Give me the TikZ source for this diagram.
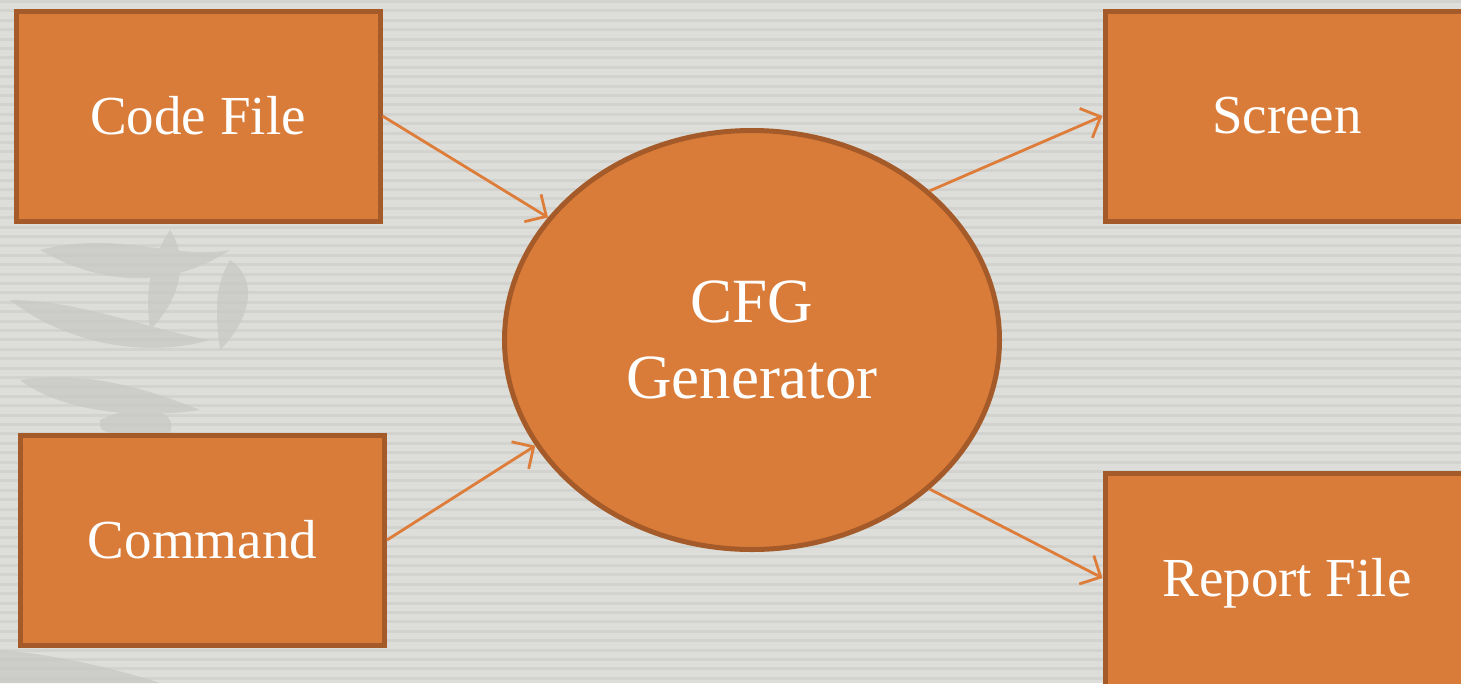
\documentclass[tikz,border=0pt]{standalone}
\usepackage{fontspec}
\setmainfont{Liberation Serif}
\usetikzlibrary{shapes.geometric,arrows.meta}
\definecolor{bg}{HTML}{DDDED9}
\definecolor{stripe}{HTML}{C9CAC5}
\definecolor{leaf}{HTML}{CDCECA}
\definecolor{boxfill}{HTML}{D97C3A}
\definecolor{boxline}{HTML}{A55B29}
\definecolor{arrowc}{HTML}{DE7C39}
\tikzset{
  boxnode/.style={draw=boxline, fill=boxfill, line width=5pt, minimum width=364pt, minimum height=210pt, text=white, font=\fontsize{55}{66}\selectfont, inner sep=0pt},
  procnode/.style={ellipse, draw=boxline, fill=boxfill, line width=5pt, minimum width=495pt, minimum height=419pt, text=white, align=center, font=\fontsize{63}{76}\selectfont, inner sep=0pt},
  flow/.style={draw=arrowc, line width=2.8pt, -{Straight Barb[length=16pt,width=32pt,line width=2.8pt]}}
}
\begin{document}
\begin{tikzpicture}[x=1pt,y=-1pt]
\useasboundingbox (0,0) rectangle (1461,683);
\fill[bg] (0,0) rectangle (1461,683);
% faint watermark leaves
\begin{scope}[leaf]
\fill (40,250) .. controls (120,230) and (170,260) .. (230,250) .. controls (170,290) and (100,285) .. cycle;
\fill (10,300) .. controls (80,300) and (150,330) .. (210,340) .. controls (140,360) and (60,340) .. cycle;
\fill (20,380) .. controls (90,370) and (150,390) .. (200,410) .. controls (130,420) and (60,410) .. cycle;
\fill (170,230) .. controls (190,260) and (180,300) .. (150,330) .. controls (145,290) and (150,260) .. cycle;
\fill (230,260) .. controls (260,280) and (250,320) .. (220,350) .. controls (215,310) and (215,285) .. cycle;
\fill (100,420) .. controls (140,400) and (180,410) .. (170,433) -- (110,433) .. controls (100,430) .. cycle;
\fill (0,650) .. controls (60,655) and (120,670) .. (160,683) -- (0,683) -- cycle;
\end{scope}
\foreach \s in {0,9.4,...,683} \fill[stripe, opacity=0.5] (0,\s) rectangle (1461,\s+3);
\node[boxnode] (cf)  at (198,116)   {Code File};
\node[boxnode] (cmd) at (202.5,540) {Command};
\node[boxnode] (scr) at (1287,116)  {Screen};
\node[boxnode, minimum height=220pt] (rep) at (1287,583) {\raisebox{10pt}{Report File}};
\node[procnode] (gen) at (752,340) {CFG\\Generator};
\draw[flow] (cf.east) -- (gen.149);
\draw[flow] (cmd.east) -- (gen.206);
\draw[flow] (gen.40) -- (scr.west);
\draw[flow] (gen.320) -- (rep.west |- 0,578);
\end{tikzpicture}
\end{document}
